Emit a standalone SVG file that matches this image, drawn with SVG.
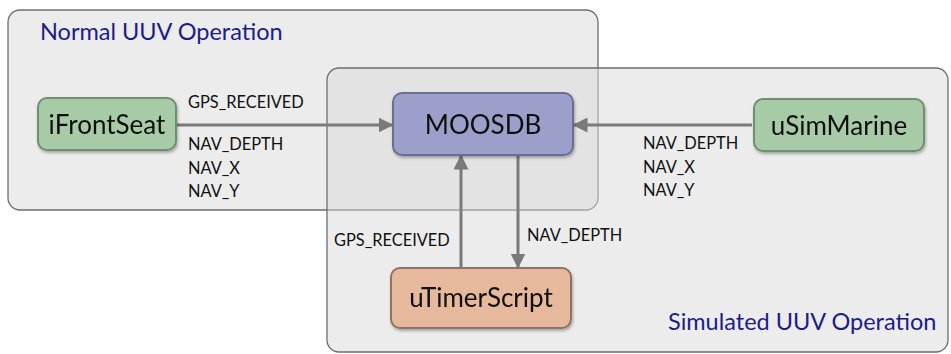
<svg xmlns="http://www.w3.org/2000/svg" width="951" height="354" viewBox="0 0 951 354">
<defs>
<style>
.region{fill:#d9d9d9;fill-opacity:0.5;stroke:#6e6e6e;stroke-width:1.3}
.rtitle{font-family:Lato,"Open Sans",sans-serif;font-size:23.5px;fill:#1c1c8a}
.node{stroke-width:2}
.ntext{font-family:Lato,"Open Sans",sans-serif;font-size:26px;fill:#111;text-anchor:middle}
.lbl{font-family:Lato,"Open Sans",sans-serif;font-size:16.4px;fill:#111}
.conn{stroke:#7a7a7a;stroke-width:3;fill:none;marker-end:url(#ah)}
</style>
<marker id="ah" viewBox="0 0 10 10" refX="9" refY="5" markerWidth="5" markerHeight="5" orient="auto" markerUnits="strokeWidth">
<path d="M0,0 L10,5 L0,10 z" fill="#7a7a7a"/>
</marker>
<filter id="sh" x="-10%" y="-10%" width="125%" height="135%">
<feDropShadow dx="1" dy="2" stdDeviation="1.5" flood-color="#000" flood-opacity="0.3"/>
</filter>
</defs>
<rect width="951" height="354" fill="#ffffff"/>
<g id="normal-region">
<rect class="region" x="8" y="10" width="590" height="200" rx="12"/>
<text class="rtitle" x="40" y="40">Normal UUV Operation</text>
</g>
<g id="simulated-region">
<rect class="region" x="327" y="68" width="621" height="284" rx="12"/>
<text class="rtitle" x="668" y="330">Simulated UUV Operation</text>
</g>
<g id="connectors">
<line class="conn" x1="177" y1="125" x2="392" y2="125"/>
<line class="conn" x1="752" y1="125" x2="574" y2="125"/>
<line class="conn" x1="461" y1="267" x2="461" y2="156"/>
<line class="conn" x1="518" y1="156" x2="518" y2="267"/>
<text class="lbl" x="188" y="108">GPS_RECEIVED</text>
<text class="lbl" x="188" y="150">NAV_DEPTH</text>
<text class="lbl" x="188" y="174">NAV_X</text>
<text class="lbl" x="188" y="197">NAV_Y</text>
<text class="lbl" x="643" y="149">NAV_DEPTH</text>
<text class="lbl" x="643" y="173">NAV_X</text>
<text class="lbl" x="643" y="196">NAV_Y</text>
<text class="lbl" x="334" y="246">GPS_RECEIVED</text>
<text class="lbl" x="527" y="241">NAV_DEPTH</text>
</g>
<g id="iFrontSeat" filter="url(#sh)">
<rect class="node" x="38" y="98" width="138" height="52" rx="9" fill="#a6cba6" stroke="#6f8f6f"/>
<text class="ntext" x="107" y="134">iFrontSeat</text>
</g>
<g id="MOOSDB" filter="url(#sh)">
<rect class="node" x="393" y="93" width="180" height="62" rx="9" fill="#9c9fc9" stroke="#6c6e8f"/>
<text class="ntext" x="483" y="134">MOOSDB</text>
</g>
<g id="uSimMarine" filter="url(#sh)">
<rect class="node" x="754" y="99" width="170" height="52" rx="9" fill="#a6cba6" stroke="#6f8f6f"/>
<text class="ntext" x="839" y="135">uSimMarine</text>
</g>
<g id="uTimerScript" filter="url(#sh)">
<rect class="node" x="391" y="268" width="180" height="60" rx="9" fill="#e6b89c" stroke="#8f7262"/>
<text class="ntext" x="481" y="307">uTimerScript</text>
</g>
</svg>
